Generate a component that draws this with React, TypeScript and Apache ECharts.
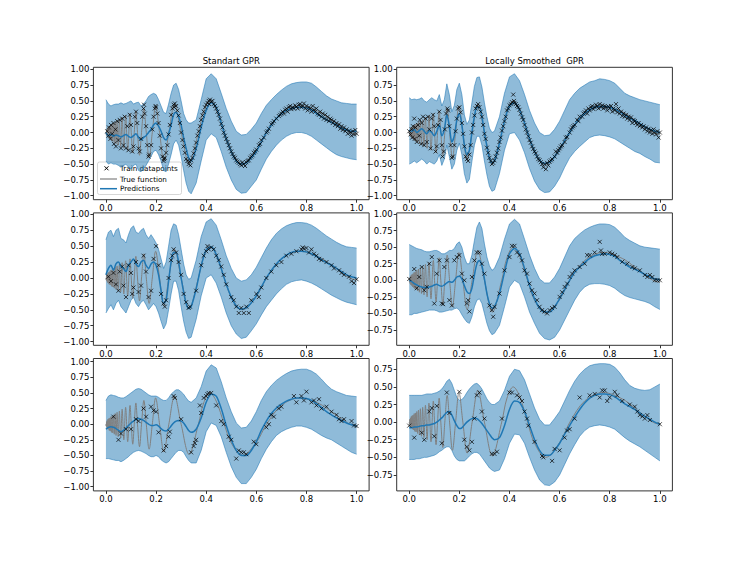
import React, { useEffect, useRef } from "react";
import * as echarts from "echarts";

const FONT = "'DejaVu Sans', Verdana, sans-serif";
const C0 = "#1f77b4";

const COL_TITLES = ["Standart GPR", "Locally Smoothed  GPR"];
const X_TICKS = [0, 0.2, 0.4, 0.6, 0.8, 1.0];
const Y_TICKS_FULL = [-1, -0.75, -0.5, -0.25, 0, 0.25, 0.5, 0.75, 1];
const Y_TICKS_D = [-0.75, -0.5, -0.25, 0, 0.25, 0.5, 0.75, 1];
const Y_TICKS_F = [-0.75, -0.5, -0.25, 0, 0.25, 0.5, 0.75];

// common x positions of predictions / confidence band
const X_GRID = [0, 0.01, 0.02, 0.03, 0.04, 0.05, 0.06, 0.07, 0.08, 0.09, 0.1, 0.11, 0.12, 0.13, 0.14, 0.15, 0.16, 0.17, 0.18, 0.19, 0.2, 0.21, 0.22, 0.23, 0.24, 0.25, 0.26, 0.27, 0.28, 0.29, 0.3, 0.31, 0.32, 0.33, 0.34,
  0.36, 0.38, 0.4, 0.42, 0.44, 0.46, 0.48, 0.5, 0.52, 0.54, 0.56, 0.58, 0.6, 0.62, 0.64, 0.66, 0.68, 0.7, 0.72, 0.74, 0.76, 0.78, 0.8, 0.82, 0.84, 0.86, 0.88, 0.9, 0.92, 0.94, 0.96, 0.98, 1.0];

// true function
const TRUE_FN = [
  [0, 0], [0.0013, -0.03], [0.0025, 0.04], [0.0039, -0.05], [0.0053, 0.06], [0.0067, -0.07], [0.0083, 0.08], [0.0099, -0.08],
  [0.0116, 0.09], [0.0135, -0.1], [0.0154, 0.1], [0.0175, -0.11], [0.0197, 0.12], [0.0221, -0.13], [0.0246, 0.13], [0.0273, -0.14],
  [0.0302, 0.15], [0.0333, -0.16], [0.0367, 0.17], [0.0404, -0.18], [0.0444, 0.19], [0.0488, -0.2], [0.0536, 0.21], [0.0589, -0.22],
  [0.0647, 0.24], [0.0713, -0.25], [0.0786, 0.27], [0.0868, -0.28], [0.0962, 0.3], [0.101, 0.0], [0.107, -0.32], [0.113, 0.0],
  [0.1194, 0.34], [0.126, 0.0], [0.134, -0.36], [0.142, 0.0], [0.1514, 0.38], [0.161, 0.0], [0.1724, -0.4], [0.185, 0.0],
  [0.1983, 0.42], [0.214, 0.0], [0.231, -0.44], [0.251, 0.0], [0.2738, 0.45], [0.3, 0.0], [0.3318, -0.48], [0.369, 0.0],
  [0.39, 0.34], [0.415, 0.5], [0.44, 0.37], [0.472, 0.0], [0.5, -0.3], [0.5445, -0.5], [0.6, -0.29], [0.641, 0.0],
  [0.7, 0.3], [0.774, 0.42], [0.85, 0.33], [0.9, 0.2], [0.972, 0.0], [1.0, -0.03],
];

// ---- panel A: top-left, Standart GPR
const MEAN_A = [0.0, -0.05, -0.03, -0.06, -0.04, -0.05, -0.07, -0.05, -0.03, -0.06, -0.08, -0.05, -0.02, -0.08, -0.12, -0.08,
  -0.05, 0.0, 0.05, 0.12, 0.15, 0.1, 0.02, -0.08, -0.12, -0.02, 0.12, 0.28, 0.32, 0.25, 0.12, -0.08, -0.25, -0.4, -0.45,
  -0.25, 0.08, 0.35, 0.47, 0.4, 0.15, -0.1, -0.3, -0.45, -0.5, -0.48, -0.4, -0.3, -0.15, 0.0, 0.12, 0.22, 0.3, 0.35, 0.38, 0.4, 0.4, 0.39, 0.36, 0.3, 0.25, 0.2, 0.16, 0.12, 0.07, 0.04, 0.02, 0.02];
const UPPER_A = [0.52, 0.45, 0.42, 0.44, 0.45, 0.45, 0.47, 0.45, 0.46, 0.48, 0.5, 0.45, 0.47, 0.48, 0.42, 0.45, 0.5, 0.57, 0.6, 0.62, 0.6, 0.52, 0.42, 0.32, 0.3, 0.45, 0.62, 0.75, 0.78, 0.68, 0.5, 0.3, 0.2, 0.15, 0.15,
  0.2, 0.52, 0.85, 0.93, 0.85, 0.62, 0.38, 0.18, 0.02, -0.04, -0.03, 0.05, 0.15, 0.3, 0.43, 0.52, 0.6, 0.67, 0.73, 0.77, 0.79, 0.8, 0.8, 0.78, 0.72, 0.65, 0.58, 0.53, 0.5, 0.47, 0.46, 0.45, 0.45];
const LOWER_A = [-0.45, -0.5, -0.48, -0.5, -0.5, -0.52, -0.55, -0.52, -0.5, -0.55, -0.58, -0.52, -0.5, -0.6, -0.62, -0.58, -0.52, -0.45, -0.38, -0.3, -0.28, -0.35, -0.45, -0.6, -0.62, -0.5, -0.35, -0.18, -0.12, -0.2, -0.38, -0.6, -0.8, -0.93, -0.97,
  -0.8, -0.45, -0.12, -0.02, -0.08, -0.3, -0.55, -0.75, -0.9, -0.96, -0.95, -0.85, -0.75, -0.58, -0.42, -0.3, -0.2, -0.12, -0.06, -0.02, 0.0, 0.0, -0.02, -0.06, -0.12, -0.18, -0.24, -0.3, -0.35, -0.38, -0.4, -0.42, -0.43];
const TRAIN_A = [
  [0.005, 0.02], [0.01, -0.05], [0.012, 0.08], [0.018, -0.1], [0.02, 0.12], [0.025, -0.02], [0.03, 0.15], [0.032, -0.18], [0.038, 0.05], [0.04, -0.22], [0.045, 0.18], [0.05, -0.12], [0.055, 0.2], [0.06, -0.25], [0.065, 0.22], [0.07, -0.2], [0.075, 0.25], [0.08, -0.25], [0.085, 0.1], [0.09, -0.28], [0.095, 0.28], [0.1, 0.12], [0.105, -0.3],
  [0.11, -0.22], [0.115, 0.25], [0.12, 0.33], [0.125, 0.15], [0.13, -0.25], [0.135, -0.3], [0.14, -0.1], [0.145, 0.25], [0.15, 0.38], [0.152, 0.44], [0.155, 0.3], [0.16, 0.1], [0.165, -0.2], [0.17, -0.38], [0.172, -0.35], [0.18, -0.2], [0.185, 0.05], [0.19, 0.25], [0.195, 0.38], [0.198, 0.42], [0.2, 0.4], [0.205, 0.3],
  [0.21, 0.15], [0.215, -0.05], [0.22, -0.25], [0.225, -0.38], [0.23, -0.45], [0.232, -0.42], [0.235, -0.4], [0.24, -0.32], [0.245, -0.2], [0.25, -0.03], [0.255, 0.12], [0.26, 0.28], [0.265, 0.38], [0.27, 0.44], [0.272, 0.4], [0.275, 0.46], [0.28, 0.42], [0.285, 0.35], [0.29, 0.27], [0.295, 0.15],
  [0.3, 0.0], [0.305, -0.12], [0.31, -0.22], [0.315, -0.32], [0.32, -0.42], [0.325, -0.45], [0.33, -0.5], [0.333, -0.46], [0.337, -0.52], [0.34, -0.44], [0.345, -0.4], [0.35, -0.33], [0.355, -0.25], [0.36, -0.16], [0.365, -0.05], [0.37, 0.02], [0.375, 0.1], [0.38, 0.2], [0.385, 0.27], [0.39, 0.33], [0.395, 0.4],
  [0.4, 0.44], [0.405, 0.47], [0.41, 0.5], [0.412, 0.45], [0.415, 0.52], [0.42, 0.49], [0.425, 0.5], [0.43, 0.45], [0.435, 0.42], [0.44, 0.38], [0.445, 0.33], [0.45, 0.28], [0.455, 0.22], [0.46, 0.14], [0.465, 0.08], [0.47, 0.0], [0.475, -0.05], [0.48, -0.1], [0.485, -0.15], [0.49, -0.2], [0.495, -0.25],
  [0.5, -0.3], [0.505, -0.34], [0.51, -0.38], [0.515, -0.4], [0.52, -0.44], [0.525, -0.46], [0.53, -0.48], [0.535, -0.5], [0.54, -0.52], [0.545, -0.47], [0.55, -0.5], [0.555, -0.53], [0.56, -0.47], [0.565, -0.45], [0.57, -0.44], [0.575, -0.4], [0.58, -0.38], [0.585, -0.36], [0.59, -0.32], [0.595, -0.3],
  [0.6, -0.27], [0.61, -0.2], [0.615, -0.18], [0.62, -0.12], [0.63, -0.08], [0.64, 0.0], [0.645, 0.02], [0.65, 0.06], [0.66, 0.13], [0.665, 0.15], [0.67, 0.18], [0.68, 0.22], [0.69, 0.26], [0.695, 0.28],
  [0.7, 0.3], [0.705, 0.33], [0.71, 0.3], [0.715, 0.36], [0.72, 0.38], [0.725, 0.33], [0.73, 0.4], [0.735, 0.42], [0.74, 0.37], [0.745, 0.4], [0.75, 0.38], [0.755, 0.43], [0.76, 0.41], [0.765, 0.38], [0.77, 0.44], [0.775, 0.45], [0.78, 0.4], [0.785, 0.42], [0.79, 0.46], [0.795, 0.38],
  [0.8, 0.42], [0.805, 0.35], [0.81, 0.4], [0.815, 0.38], [0.82, 0.33], [0.825, 0.42], [0.83, 0.36], [0.835, 0.33], [0.84, 0.38], [0.845, 0.3], [0.85, 0.28], [0.855, 0.33], [0.86, 0.25], [0.865, 0.3], [0.87, 0.22], [0.875, 0.28], [0.88, 0.2], [0.885, 0.25], [0.89, 0.18], [0.895, 0.22],
  [0.9, 0.2], [0.905, 0.15], [0.91, 0.18], [0.915, 0.12], [0.92, 0.15], [0.925, 0.1], [0.93, 0.13], [0.935, 0.06], [0.94, 0.1], [0.945, 0.04], [0.95, 0.08], [0.955, 0.02], [0.96, 0.05], [0.965, -0.02], [0.97, 0.03], [0.975, 0.0], [0.98, -0.05], [0.985, 0.02], [0.99, -0.03], [0.995, 0.04], [1.0, -0.02],
];

// ---- panel B: top-right, Locally Smoothed GPR
const MEAN_B = [0.04, 0.02, 0.05, 0.0, 0.03, 0.06, 0.02, -0.02, 0.03, 0.0, -0.05, 0.02,
  0.12, -0.05, 0.05, 0.28, 0.1, -0.15, -0.05, 0.2, 0.3, 0.12, -0.2, -0.35, -0.28, 0.0, 0.25, 0.4, 0.4, 0.25, 0.0, -0.22, -0.4, -0.48, -0.45,
  -0.17, 0.18, 0.42, 0.47, 0.36, 0.15, -0.1, -0.3, -0.44, -0.49, -0.47, -0.38, -0.27, -0.13, 0.0, 0.12, 0.22, 0.3, 0.36, 0.4, 0.41, 0.41, 0.4, 0.37, 0.33, 0.28, 0.23, 0.19, 0.14, 0.09, 0.05, 0.02, 0.0];
const UPPER_B = [0.55, 0.52, 0.53, 0.52, 0.53, 0.55, 0.5, 0.48, 0.52, 0.55, 0.52, 0.5,
  0.6, 0.42, 0.52, 0.77, 0.6, 0.33, 0.43, 0.68, 0.78, 0.6, 0.28, 0.13, 0.2, 0.47, 0.73, 0.87, 0.88, 0.72, 0.47, 0.25, 0.07, 0.0, 0.02,
  0.25, 0.62, 0.88, 0.93, 0.82, 0.6, 0.35, 0.15, 0.0, -0.05, -0.04, 0.05, 0.18, 0.35, 0.52, 0.62, 0.7, 0.75, 0.8, 0.82, 0.85, 0.84, 0.82, 0.78, 0.7, 0.62, 0.58, 0.55, 0.52, 0.5, 0.48, 0.46, 0.44];
const LOWER_B = [-0.5, -0.48, -0.45, -0.48, -0.45, -0.42, -0.45, -0.5, -0.46, -0.48, -0.5, -0.45,
  -0.35, -0.52, -0.42, -0.2, -0.38, -0.58, -0.5, -0.28, -0.17, -0.35, -0.65, -0.8, -0.74, -0.46, -0.2, -0.06, -0.06, -0.2, -0.45, -0.67, -0.85, -0.93, -0.91,
  -0.65, -0.28, -0.02, 0.0, -0.12, -0.32, -0.57, -0.77, -0.9, -0.95, -0.94, -0.85, -0.72, -0.55, -0.4, -0.3, -0.22, -0.15, -0.08, -0.05, -0.04, -0.05, -0.07, -0.1, -0.15, -0.2, -0.25, -0.3, -0.33, -0.38, -0.42, -0.47, -0.48];
const TRAIN_B = [
  [0.0, 0.02], [0.005, -0.03], [0.01, 0.05], [0.012, -0.08], [0.015, 0.1], [0.02, 0.22], [0.022, -0.1], [0.025, 0.08], [0.03, -0.15], [0.035, 0.12], [0.04, -0.05], [0.042, 0.2], [0.048, -0.18], [0.05, 0.15], [0.055, 0.25], [0.06, -0.2], [0.065, 0.22], [0.07, -0.15], [0.075, 0.25], [0.08, 0.05], [0.085, -0.25], [0.09, 0.22], [0.095, 0.28], [0.1, 0.1],
  [0.105, -0.3], [0.11, -0.22], [0.115, 0.12], [0.12, 0.33], [0.125, 0.2], [0.13, -0.2], [0.133, -0.38], [0.138, -0.3], [0.142, 0.05], [0.147, 0.3], [0.152, 0.38], [0.155, 0.35], [0.16, 0.1], [0.165, -0.2], [0.17, -0.4], [0.174, -0.38], [0.18, -0.2], [0.185, 0.02], [0.19, 0.22], [0.195, 0.38], [0.2, 0.4],
  [0.205, 0.32], [0.21, 0.15], [0.215, -0.02], [0.22, -0.22], [0.225, -0.38], [0.23, -0.42], [0.235, -0.45], [0.24, -0.35], [0.245, -0.2], [0.25, 0.0], [0.255, 0.12], [0.26, 0.27], [0.265, 0.38], [0.27, 0.42], [0.275, 0.45], [0.28, 0.4], [0.285, 0.33], [0.29, 0.25], [0.295, 0.12], [0.3, -0.02],
  [0.305, -0.1], [0.31, -0.24], [0.315, -0.32], [0.32, -0.4], [0.325, -0.45], [0.33, -0.5], [0.335, -0.48], [0.34, -0.44], [0.345, -0.38], [0.35, -0.32], [0.355, -0.25], [0.36, -0.15], [0.365, -0.08], [0.37, 0.03], [0.375, 0.1], [0.38, 0.18], [0.385, 0.25], [0.39, 0.35], [0.395, 0.38],
  [0.4, 0.43], [0.405, 0.45], [0.41, 0.48], [0.415, 0.6], [0.418, 0.5], [0.42, 0.47], [0.425, 0.45], [0.43, 0.42], [0.435, 0.4], [0.44, 0.36], [0.445, 0.3], [0.45, 0.24], [0.455, 0.2], [0.46, 0.12], [0.465, 0.05], [0.47, 0.0], [0.475, -0.06], [0.48, -0.12], [0.485, -0.16], [0.49, -0.22], [0.495, -0.26],
  [0.5, -0.3], [0.505, -0.33], [0.51, -0.38], [0.515, -0.42], [0.52, -0.44], [0.525, -0.47], [0.53, -0.5], [0.535, -0.55], [0.54, -0.5], [0.545, -0.58], [0.55, -0.48], [0.555, -0.52], [0.56, -0.46], [0.565, -0.44], [0.57, -0.42], [0.58, -0.38], [0.585, -0.3], [0.59, -0.32], [0.595, -0.28],
  [0.6, -0.25], [0.605, -0.22], [0.61, -0.2], [0.62, -0.15], [0.625, -0.08], [0.63, -0.07], [0.64, 0.0], [0.645, 0.05], [0.65, 0.08], [0.655, 0.1], [0.66, 0.12], [0.67, 0.2], [0.675, 0.18], [0.68, 0.25], [0.69, 0.25], [0.695, 0.3],
  [0.7, 0.32], [0.705, 0.35], [0.71, 0.3], [0.715, 0.38], [0.72, 0.35], [0.725, 0.4], [0.73, 0.42], [0.735, 0.37], [0.74, 0.4], [0.745, 0.44], [0.75, 0.42], [0.755, 0.38], [0.76, 0.45], [0.765, 0.4], [0.77, 0.43], [0.775, 0.38], [0.78, 0.42], [0.785, 0.4], [0.79, 0.35], [0.795, 0.41],
  [0.8, 0.38], [0.805, 0.42], [0.81, 0.33], [0.815, 0.38], [0.82, 0.35], [0.825, 0.45], [0.83, 0.32], [0.835, 0.38], [0.84, 0.3], [0.845, 0.33], [0.85, 0.26], [0.855, 0.3], [0.86, 0.25], [0.865, 0.28], [0.87, 0.22], [0.875, 0.25], [0.88, 0.2], [0.885, 0.24], [0.89, 0.15], [0.895, 0.2],
  [0.9, 0.18], [0.905, 0.15], [0.91, 0.12], [0.915, 0.15], [0.92, 0.1], [0.925, 0.12], [0.93, 0.08], [0.935, 0.1], [0.94, 0.05], [0.945, 0.08], [0.95, 0.02], [0.955, 0.06], [0.96, 0.0], [0.965, 0.04], [0.97, -0.02], [0.975, 0.05], [0.98, 0.0], [0.985, -0.03], [0.99, 0.02], [0.995, -0.08], [1.0, 0.0],
];

// ---- panel C: middle-left, Standart GPR
const MEAN_C = [0.05, 0.15, 0.2, 0.12, 0.22, 0.25, 0.18, 0.15, 0.1, 0.2, 0.25, 0.3, 0.22, 0.18, 0.25, 0.28, 0.2, 0.15, 0.22, 0.25, 0.2,
  0.05, -0.2, -0.4, -0.35, -0.05, 0.25, 0.4, 0.4, 0.25, 0.0, -0.22, -0.4, -0.48, -0.45,
  -0.17, 0.19, 0.44, 0.49, 0.37, 0.15, -0.1, -0.3, -0.44, -0.49, -0.47, -0.39, -0.28, -0.14, 0.0, 0.12, 0.22, 0.3, 0.36, 0.4, 0.42, 0.42, 0.41, 0.38, 0.34, 0.29, 0.24, 0.2, 0.15, 0.1, 0.05, 0.02, 0.0];
const UPPER_C = [0.6, 0.72, 0.75, 0.65, 0.75, 0.78, 0.62, 0.6, 0.55, 0.68, 0.78, 0.82, 0.72, 0.7, 0.75, 0.78, 0.68, 0.62, 0.68, 0.62, 0.55,
  0.45, 0.3, 0.15, 0.25, 0.5, 0.75, 0.85, 0.83, 0.68, 0.45, 0.22, 0.05, -0.02, 0.0,
  0.28, 0.65, 0.88, 0.93, 0.83, 0.6, 0.35, 0.15, 0.0, -0.05, -0.03, 0.05, 0.17, 0.32, 0.47, 0.6, 0.7, 0.77, 0.82, 0.85, 0.87, 0.87, 0.86, 0.83, 0.78, 0.72, 0.66, 0.61, 0.56, 0.52, 0.49, 0.48, 0.47];
const LOWER_C = [-0.55, -0.48, -0.42, -0.5, -0.4, -0.35, -0.45, -0.5, -0.55, -0.45, -0.35, -0.3, -0.4, -0.45, -0.38, -0.35, -0.42, -0.5, -0.45, -0.4, -0.45,
  -0.55, -0.68, -0.8, -0.72, -0.5, -0.25, -0.05, -0.05, -0.2, -0.45, -0.68, -0.85, -0.95, -0.93,
  -0.65, -0.28, 0.0, 0.05, -0.08, -0.3, -0.55, -0.75, -0.88, -0.95, -0.93, -0.83, -0.72, -0.58, -0.45, -0.35, -0.25, -0.17, -0.1, -0.06, -0.04, -0.03, -0.05, -0.08, -0.12, -0.17, -0.22, -0.27, -0.31, -0.35, -0.38, -0.4, -0.42];
const TRAIN_C = [
  [0.01, 0.02], [0.02, -0.05], [0.03, 0.08], [0.04, -0.1], [0.05, -0.2], [0.055, 0.1], [0.065, 0.18], [0.07, -0.12], [0.08, -0.3], [0.09, 0.2], [0.1, 0.08], [0.105, -0.25], [0.11, -0.15], [0.12, 0.25], [0.13, -0.22], [0.14, -0.12], [0.15, 0.35], [0.16, 0.1], [0.17, -0.3], [0.18, -0.2], [0.19, 0.3], [0.2, 0.5],
  [0.21, 0.2], [0.22, -0.25], [0.23, -0.4], [0.235, -0.45], [0.24, -0.35], [0.25, 0.0], [0.26, 0.28], [0.265, 0.35], [0.27, 0.45], [0.28, 0.4], [0.29, 0.25], [0.3, 0.05], [0.31, -0.25], [0.32, -0.38], [0.33, -0.47], [0.335, -0.45], [0.36, -0.2], [0.38, 0.2], [0.39, 0.35],
  [0.4, 0.42], [0.405, 0.5], [0.41, 0.45], [0.42, 0.48], [0.43, 0.45], [0.44, 0.35], [0.45, 0.28], [0.46, 0.18], [0.47, 0.05], [0.48, -0.1], [0.5, -0.3], [0.51, -0.35], [0.52, -0.45], [0.53, -0.55], [0.54, -0.47], [0.55, -0.55], [0.56, -0.45], [0.57, -0.55], [0.58, -0.35],
  [0.6, -0.25], [0.61, -0.3], [0.62, -0.15], [0.64, 0.0], [0.66, 0.1], [0.68, 0.2], [0.7, 0.25], [0.72, 0.35], [0.74, 0.38], [0.76, 0.42], [0.78, 0.45], [0.785, 0.48], [0.79, 0.46], [0.8, 0.47], [0.81, 0.4], [0.82, 0.45], [0.83, 0.38], [0.84, 0.35], [0.85, 0.3], [0.86, 0.28],
  [0.88, 0.25], [0.9, 0.2], [0.91, 0.15], [0.93, 0.12], [0.94, 0.08], [0.95, 0.05], [0.97, 0.02], [0.98, -0.05], [0.99, -0.08], [1.0, -0.02],
];

// ---- panel D: middle-right, Locally Smoothed GPR
const MEAN_D = [0.0, -0.02, -0.05, -0.07, -0.09, -0.1, -0.11, -0.11, -0.1, -0.09, -0.07, -0.06, -0.08, -0.09, -0.07, -0.04, -0.02, -0.03, 0.0, 0.05, 0.06,
  0.02, -0.08, -0.17, -0.2, -0.12, 0.08, 0.25, 0.3, 0.22, 0.02, -0.2, -0.35, -0.42, -0.4,
  -0.2, 0.12, 0.4, 0.48, 0.4, 0.18, -0.08, -0.28, -0.42, -0.48, -0.48, -0.4, -0.28, -0.14, 0.0, 0.12, 0.2, 0.27, 0.33, 0.37, 0.39, 0.4, 0.39, 0.36, 0.3, 0.25, 0.2, 0.17, 0.13, 0.09, 0.05, 0.02, 0.01];
const UPPER_D = [0.54, 0.52, 0.5, 0.48, 0.47, 0.46, 0.44, 0.43, 0.43, 0.44, 0.45, 0.45, 0.43, 0.4, 0.4, 0.42, 0.45, 0.45, 0.48, 0.55, 0.58,
  0.5, 0.35, 0.25, 0.25, 0.38, 0.6, 0.8, 0.88, 0.78, 0.55, 0.35, 0.22, 0.15, 0.18,
  0.35, 0.62, 0.85, 0.92, 0.85, 0.62, 0.38, 0.18, 0.02, -0.04, -0.04, 0.05, 0.18, 0.35, 0.52, 0.63, 0.7, 0.76, 0.8, 0.83, 0.85, 0.85, 0.84, 0.8, 0.73, 0.65, 0.6, 0.56, 0.52, 0.5, 0.49, 0.48, 0.47];
const LOWER_D = [-0.52, -0.52, -0.5, -0.5, -0.49, -0.48, -0.47, -0.46, -0.45, -0.45, -0.45, -0.46, -0.48, -0.48, -0.47, -0.46, -0.45, -0.45, -0.43, -0.42, -0.45,
  -0.52, -0.58, -0.63, -0.65, -0.55, -0.4, -0.3, -0.28, -0.35, -0.5, -0.65, -0.76, -0.82, -0.8,
  -0.68, -0.4, -0.1, 0.0, -0.05, -0.25, -0.48, -0.65, -0.8, -0.88, -0.9, -0.86, -0.75, -0.6, -0.45, -0.3, -0.18, -0.1, -0.06, -0.05, -0.05, -0.06, -0.08, -0.12, -0.18, -0.23, -0.26, -0.28, -0.3, -0.32, -0.35, -0.4, -0.44];
const TRAIN_D = [
  [0.0, 0.02], [0.02, 0.17], [0.03, -0.12], [0.04, 0.05], [0.05, 0.2], [0.06, -0.15], [0.07, -0.1], [0.08, 0.25], [0.09, 0.35], [0.1, -0.35], [0.11, 0.1], [0.12, 0.3], [0.13, -0.35], [0.135, -0.36], [0.14, 0.2], [0.15, 0.3], [0.16, -0.3], [0.17, -0.38], [0.18, 0.3], [0.19, 0.35], [0.2, 0.38],
  [0.21, 0.1], [0.22, 0.0], [0.23, -0.35], [0.235, -0.3], [0.24, -0.47], [0.25, 0.05], [0.26, 0.3], [0.27, 0.42], [0.28, 0.42], [0.29, 0.25], [0.3, 0.1], [0.32, -0.38], [0.33, -0.45], [0.335, -0.55], [0.34, -0.4], [0.36, -0.2], [0.38, 0.15],
  [0.4, 0.35], [0.41, 0.52], [0.42, 0.52], [0.43, 0.42], [0.44, 0.38], [0.45, 0.3], [0.46, 0.15], [0.47, 0.1], [0.48, -0.05], [0.49, -0.15], [0.5, -0.2], [0.51, -0.3], [0.52, -0.4], [0.53, -0.45], [0.54, -0.47], [0.55, -0.5], [0.56, -0.45], [0.57, -0.42], [0.58, -0.4],
  [0.6, -0.25], [0.61, -0.18], [0.62, -0.1], [0.63, -0.05], [0.64, 0.05], [0.65, 0.1], [0.66, 0.15], [0.68, 0.2], [0.7, 0.25], [0.71, 0.38], [0.72, 0.38], [0.74, 0.42], [0.76, 0.58], [0.765, 0.45], [0.77, 0.4], [0.78, 0.4], [0.8, 0.42], [0.81, 0.4], [0.82, 0.38], [0.83, 0.35],
  [0.85, 0.28], [0.87, 0.25], [0.89, 0.2], [0.9, 0.18], [0.92, 0.15], [0.94, 0.08], [0.95, 0.05], [0.96, 0.08], [0.97, 0.05], [0.98, 0.0], [0.99, 0.0], [1.0, 0.0],
];

// ---- panel E: bottom-left, Standart GPR
const MEAN_E = [-0.08, -0.05, -0.04, -0.05, -0.07, -0.1, -0.12, -0.1, -0.06, -0.02, 0.02, 0.05, 0.08, 0.09, 0.08, 0.06, 0.03, 0.0, -0.02, -0.02, -0.01,
  -0.03, -0.07, -0.1, -0.11, -0.08, -0.03, 0.02, 0.05, 0.06, 0.05, 0.02, -0.04, -0.1, -0.13,
  -0.08, 0.1, 0.35, 0.48, 0.45, 0.25, -0.02, -0.25, -0.42, -0.5, -0.5, -0.42, -0.28, -0.1, 0.05, 0.17, 0.26, 0.32, 0.37, 0.4, 0.42, 0.42, 0.41, 0.38, 0.33, 0.27, 0.2, 0.15, 0.1, 0.06, 0.02, -0.01, -0.03];
const UPPER_E = [0.38, 0.45, 0.47, 0.46, 0.45, 0.43, 0.42, 0.42, 0.44, 0.47, 0.5, 0.53, 0.56, 0.57, 0.56, 0.53, 0.5, 0.47, 0.45, 0.45, 0.45,
  0.43, 0.4, 0.38, 0.38, 0.42, 0.48, 0.52, 0.55, 0.55, 0.52, 0.48, 0.42, 0.37, 0.35,
  0.42, 0.6, 0.85, 0.95, 0.9, 0.68, 0.42, 0.2, 0.02, -0.06, -0.05, 0.05, 0.2, 0.38, 0.52, 0.62, 0.7, 0.76, 0.81, 0.85, 0.87, 0.88, 0.88, 0.85, 0.8, 0.72, 0.63, 0.56, 0.52, 0.49, 0.46, 0.45, 0.44];
const LOWER_E = [-0.55, -0.55, -0.56, -0.57, -0.58, -0.58, -0.6, -0.58, -0.55, -0.52, -0.48, -0.45, -0.43, -0.42, -0.43, -0.45, -0.47, -0.5, -0.52, -0.52, -0.5,
  -0.52, -0.57, -0.6, -0.62, -0.6, -0.55, -0.5, -0.45, -0.42, -0.42, -0.45, -0.52, -0.58, -0.62,
  -0.62, -0.42, -0.12, 0.02, -0.02, -0.2, -0.45, -0.68, -0.85, -0.95, -0.95, -0.85, -0.72, -0.55, -0.4, -0.28, -0.18, -0.12, -0.08, -0.05, -0.03, -0.03, -0.05, -0.08, -0.13, -0.18, -0.22, -0.25, -0.3, -0.35, -0.4, -0.45, -0.48];
const TRAIN_E = [
  [0.03, 0.12], [0.05, -0.25], [0.06, -0.15], [0.08, -0.08], [0.1, -0.08], [0.12, 0.08], [0.13, 0.05], [0.15, 0.25], [0.16, 0.12], [0.18, 0.28], [0.19, 0.22], [0.2, 0.2], [0.21, -0.13], [0.23, -0.42], [0.24, -0.35], [0.25, -0.2], [0.255, -0.12],
  [0.27, 0.45], [0.275, 0.42], [0.3, 0.08], [0.34, -0.45], [0.35, -0.35], [0.355, -0.3], [0.36, -0.25], [0.375, 0.3], [0.38, 0.18], [0.39, 0.42], [0.4, 0.45], [0.405, 0.48], [0.41, 0.5], [0.42, 0.5], [0.44, 0.3], [0.46, 0.05], [0.47, 0.0],
  [0.49, -0.2], [0.5, -0.25], [0.52, -0.55], [0.53, -0.42], [0.54, -0.45], [0.55, -0.45], [0.56, -0.48], [0.59, -0.28], [0.6, -0.32], [0.64, -0.05], [0.65, 0.0], [0.66, 0.15], [0.67, 0.12], [0.69, 0.25], [0.7, 0.28],
  [0.75, 0.45], [0.76, 0.35], [0.78, 0.45], [0.79, 0.38], [0.8, 0.52], [0.82, 0.35], [0.83, 0.38], [0.84, 0.3], [0.85, 0.4], [0.86, 0.25], [0.88, 0.28], [0.9, 0.2], [0.92, 0.15], [0.93, 0.08], [0.94, 0.05], [0.95, 0.08], [0.98, 0.05], [0.99, -0.02], [1.0, -0.03],
];

// ---- panel F: bottom-right, Locally Smoothed GPR
const MEAN_F = [-0.08, -0.08, -0.07, -0.07, -0.06, -0.05, -0.05, -0.04, -0.04, -0.03, -0.02, 0.0, 0.03, 0.06, 0.1, 0.14, 0.15, 0.1, 0.02, -0.05, -0.09,
  -0.08, -0.04, 0.0, 0.03, 0.05, 0.06, 0.05, 0.02, -0.02, -0.07, -0.12, -0.17, -0.22, -0.25,
  -0.22, -0.05, 0.18, 0.3, 0.28, 0.15, -0.05, -0.25, -0.4, -0.47, -0.47, -0.4, -0.3, -0.17, -0.05, 0.07, 0.18, 0.27, 0.34, 0.38, 0.4, 0.4, 0.39, 0.36, 0.31, 0.26, 0.22, 0.18, 0.13, 0.08, 0.04, 0.0, -0.03];
const UPPER_F = [0.38, 0.38, 0.38, 0.38, 0.38, 0.38, 0.39, 0.4, 0.4, 0.4, 0.41, 0.42, 0.44, 0.47, 0.52, 0.58, 0.61, 0.55, 0.45, 0.35, 0.31,
  0.32, 0.36, 0.42, 0.47, 0.51, 0.54, 0.55, 0.52, 0.47, 0.4, 0.33, 0.28, 0.25, 0.25,
  0.3, 0.45, 0.65, 0.75, 0.73, 0.6, 0.4, 0.2, 0.04, -0.04, -0.04, 0.05, 0.15, 0.3, 0.45, 0.58, 0.68, 0.75, 0.8, 0.82, 0.83, 0.83, 0.82, 0.78, 0.7, 0.6, 0.52, 0.48, 0.46, 0.45, 0.46, 0.5, 0.54];
const LOWER_F = [-0.53, -0.53, -0.53, -0.52, -0.52, -0.51, -0.5, -0.5, -0.49, -0.48, -0.47, -0.45, -0.42, -0.4, -0.37, -0.35, -0.35, -0.4, -0.48, -0.53, -0.55,
  -0.55, -0.55, -0.52, -0.48, -0.45, -0.43, -0.43, -0.45, -0.5, -0.55, -0.6, -0.65, -0.68, -0.7,
  -0.68, -0.52, -0.3, -0.17, -0.18, -0.3, -0.5, -0.68, -0.82, -0.89, -0.9, -0.85, -0.75, -0.6, -0.45, -0.32, -0.2, -0.12, -0.07, -0.05, -0.04, -0.05, -0.07, -0.1, -0.16, -0.22, -0.27, -0.31, -0.35, -0.4, -0.45, -0.5, -0.55];
const TRAIN_F = [
  [0.0, -0.05], [0.02, -0.22], [0.05, -0.15], [0.06, -0.25], [0.08, 0.15], [0.09, 0.2], [0.1, -0.2], [0.11, 0.23], [0.13, -0.3], [0.15, 0.42], [0.16, 0.13], [0.2, 0.43], [0.22, -0.25], [0.23, -0.35], [0.24, -0.4], [0.25, -0.28], [0.26, 0.05],
  [0.27, 0.38], [0.28, 0.42], [0.29, 0.15], [0.3, 0.05], [0.33, -0.45], [0.34, -0.45], [0.35, -0.42], [0.37, 0.05], [0.4, 0.42], [0.41, 0.42], [0.43, 0.38], [0.44, 0.35], [0.45, 0.3], [0.46, 0.15], [0.47, 0.05], [0.475, -0.05],
  [0.5, -0.28], [0.53, -0.48], [0.535, -0.5], [0.57, -0.55], [0.58, -0.38], [0.6, -0.4], [0.62, -0.22], [0.63, -0.12], [0.64, -0.1], [0.66, 0.05], [0.68, 0.35], [0.72, 0.38], [0.74, 0.4], [0.76, 0.35], [0.77, 0.45], [0.78, 0.45],
  [0.79, 0.3], [0.8, 0.35], [0.82, 0.43], [0.83, 0.38], [0.85, 0.3], [0.88, 0.25], [0.9, 0.22], [0.91, 0.15], [0.92, 0.1], [0.93, 0.08], [0.94, 0.05], [0.95, 0.1], [0.96, 0.03], [1.0, -0.03],
];

// layout
const COL_LEFT = [93.4, 396.7];
const ROW_TOP = [67.3, 212.9, 358.5];
const CELL_W = 275.7;
const CELL_H = 132.4;

const PANELS = [
  { row: 0, col: 0, mean: MEAN_A, upper: UPPER_A, lower: LOWER_A, train: TRAIN_A, ymin: -1.063, ymax: 1.032, yticks: Y_TICKS_FULL },
  { row: 0, col: 1, mean: MEAN_B, upper: UPPER_B, lower: LOWER_B, train: TRAIN_B, ymin: -1.063, ymax: 1.032, yticks: Y_TICKS_FULL },
  { row: 1, col: 0, mean: MEAN_C, upper: UPPER_C, lower: LOWER_C, train: TRAIN_C, ymin: -1.057, ymax: 1.022, yticks: Y_TICKS_FULL },
  { row: 1, col: 1, mean: MEAN_D, upper: UPPER_D, lower: LOWER_D, train: TRAIN_D, ymin: -0.981, ymax: 1.017, yticks: Y_TICKS_D },
  { row: 2, col: 0, mean: MEAN_E, upper: UPPER_E, lower: LOWER_E, train: TRAIN_E, ymin: -1.067, ymax: 1.051, yticks: Y_TICKS_FULL },
  { row: 2, col: 1, mean: MEAN_F, upper: UPPER_F, lower: LOWER_F, train: TRAIN_F, ymin: -0.976, ymax: 0.903, yticks: Y_TICKS_F },
];

const fmtY = (v: number) => (v < 0 ? "\u2212" : "") + Math.abs(v).toFixed(2);
const fmtX = (v: number) => (v < 0 ? "\u2212" : "") + Math.abs(v).toFixed(1);

function buildOption() {
  const grid: any[] = [];
  const xAxis: any[] = [];
  const yAxis: any[] = [];
  const series: any[] = [];

  PANELS.forEach((p, i) => {
    grid.push({
      left: COL_LEFT[p.col], top: ROW_TOP[p.row], width: CELL_W, height: CELL_H,
      show: true, borderColor: "#333", borderWidth: 1, backgroundColor: "transparent", containLabel: false,
    });
    xAxis.push({
      type: "value", gridIndex: i, min: -0.05, max: 1.05,
      splitLine: { show: false },
      axisLine: { show: false, onZero: false },
      axisTick: { show: true, length: 3, customValues: X_TICKS, lineStyle: { color: "#333", width: 1 } },
      axisLabel: { customValues: X_TICKS, formatter: fmtX, fontSize: 8.5, color: "#000", margin: 4, fontFamily: FONT },
    });
    yAxis.push({
      type: "value", gridIndex: i, min: p.ymin, max: p.ymax,
      splitLine: { show: false },
      axisLine: { show: false, onZero: false },
      axisTick: { show: true, length: 3, customValues: p.yticks, lineStyle: { color: "#333", width: 1 } },
      axisLabel: { customValues: p.yticks, formatter: fmtY, fontSize: 8.5, color: "#000", margin: 4, fontFamily: FONT },
    });

    const upper = p.upper;
    const lower = p.lower;
    series.push({
      type: "custom", xAxisIndex: i, yAxisIndex: i, data: [[0.5, 0]], clip: true, silent: true, z: 1,
      renderItem: (_params: any, api: any) => {
        const up = X_GRID.map((x, k) => api.coord([x, upper[k]]));
        const lo = X_GRID.map((x, k) => api.coord([x, lower[k]]));
        return {
          type: "group",
          children: [
            { type: "polygon", shape: { points: up.concat(lo.slice().reverse()) }, style: { fill: "rgba(31,119,180,0.5)", stroke: null } },
            { type: "polyline", shape: { points: up }, style: { stroke: "rgba(31,119,180,0.55)", lineWidth: 1, fill: null } },
            { type: "polyline", shape: { points: lo }, style: { stroke: "rgba(31,119,180,0.55)", lineWidth: 1, fill: null } },
          ],
        };
      },
    });
    series.push({
      type: "line", xAxisIndex: i, yAxisIndex: i, data: TRUE_FN, showSymbol: false, symbol: "none",
      smooth: 0.35, lineStyle: { color: "#808080", width: 1 }, z: 2, silent: true,
    });
    series.push({
      type: "line", xAxisIndex: i, yAxisIndex: i, data: X_GRID.map((x, k) => [x, p.mean[k]]),
      showSymbol: false, symbol: "none", smooth: 0.3, lineStyle: { color: C0, width: 1.5 }, z: 3, silent: true,
    });
    series.push({
      type: "scatter", xAxisIndex: i, yAxisIndex: i, data: p.train,
      symbol: "path://M0,0L10,10M10,0L0,10", symbolSize: 4,
      itemStyle: { color: "rgba(0,0,0,0)", borderColor: "#000", borderWidth: 0.9 }, z: 4, silent: true,
    });
  });

  const titles = COL_TITLES.map((t, c) => ({
    text: t, left: COL_LEFT[c] + CELL_W / 2, top: 56, textAlign: "center", padding: 0,
    textStyle: { fontSize: 8.5, fontWeight: "normal", color: "#000", fontFamily: FONT },
  }));

  // legend box inside the top-left panel
  const lx = 97.5, ly = 162;
  const graphic = [
    {
      type: "group", z: 100,
      children: [
        { type: "rect", shape: { x: lx, y: ly, width: 84, height: 32.5, r: 2 }, style: { fill: "rgba(255,255,255,0.8)", stroke: "#cccccc", lineWidth: 0.8 } },
        { type: "line", shape: { x1: lx + 7, y1: ly + 4.3, x2: lx + 11, y2: ly + 8.3 }, style: { stroke: "#000", lineWidth: 1 } },
        { type: "line", shape: { x1: lx + 11, y1: ly + 4.3, x2: lx + 7, y2: ly + 8.3 }, style: { stroke: "#000", lineWidth: 1 } },
        { type: "line", shape: { x1: lx + 2.5, y1: ly + 17, x2: lx + 19.5, y2: ly + 17 }, style: { stroke: "#808080", lineWidth: 1.2 } },
        { type: "line", shape: { x1: lx + 2.5, y1: ly + 26.7, x2: lx + 19.5, y2: ly + 26.7 }, style: { stroke: C0, lineWidth: 1.5 } },
        { type: "text", x: lx + 22.5, y: ly + 6.3, style: { text: "Train datapoints", fontSize: 7.2, fontFamily: FONT, fill: "#000", verticalAlign: "middle", align: "left" } },
        { type: "text", x: lx + 22.5, y: ly + 17, style: { text: "True function", fontSize: 7.2, fontFamily: FONT, fill: "#000", verticalAlign: "middle", align: "left" } },
        { type: "text", x: lx + 22.5, y: ly + 26.7, style: { text: "Predictions", fontSize: 7.2, fontFamily: FONT, fill: "#000", verticalAlign: "middle", align: "left" } },
      ],
    },
  ];

  return { animation: false, backgroundColor: "#ffffff", title: titles, grid, xAxis, yAxis, series, graphic };
}

export default function App() {
  const ref = useRef<HTMLDivElement>(null);
  useEffect(() => {
    if (!ref.current) return;
    const chart = echarts.init(ref.current, null, { renderer: "svg" });
    chart.setOption(buildOption() as any);
    return () => chart.dispose();
  }, []);
  return <div ref={ref} style={{ position: "fixed", left: 0, top: 0, width: 747, height: 561, background: "#fff" }} />;
}
